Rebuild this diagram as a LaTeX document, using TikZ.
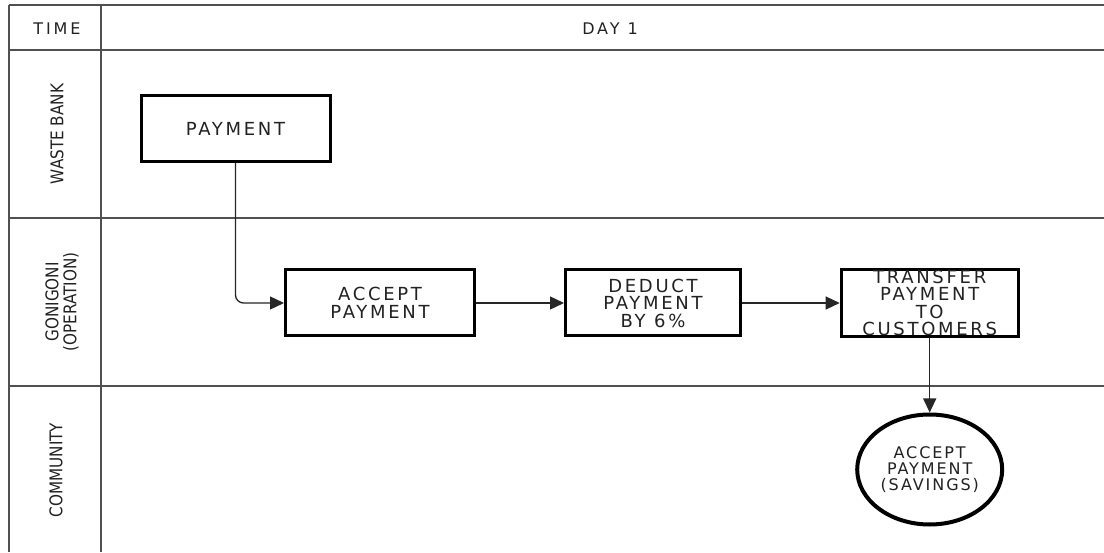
\documentclass[tikz,border=0pt]{standalone}
\usepackage{fontspec}
\setmainfont{DejaVu Sans}
\newfontfamily\boxfont[LetterSpace=15]{DejaVu Sans}
\newfontfamily\roundfont[LetterSpace=12]{DejaVu Sans}
\newfontfamily\headfont[LetterSpace=18]{DejaVu Sans}
\newfontfamily\lanefont[FakeStretch=0.87]{DejaVu Sans}
\usetikzlibrary{arrows.meta,shapes.geometric}
\definecolor{gridline}{HTML}{505050}
\definecolor{ink}{HTML}{222222}

\begin{document}
\begin{tikzpicture}[x=1pt,y=-1pt,
  gridrule/.style={draw=gridline, line width=1.6pt},
  headlabel/.style={font=\headfont\fontsize{16}{18}\selectfont, text=ink},
  lanelabel/.style={rotate=90, align=center, font=\lanefont\fontsize{17.5}{18}\selectfont, text=ink},
  stepbox/.style={draw, line width=3pt, minimum height=66pt, align=center, inner sep=0pt,
    text=ink, font=\boxfont\fontsize{18}{17.5}\selectfont},
  endstate/.style={draw, ellipse, line width=4pt, minimum width=145pt, minimum height=110pt,
    align=center, inner sep=0pt, text=ink, font=\roundfont\fontsize{16}{16}\selectfont},
  flow/.style={draw=black!85, line width=1.3pt, -{Triangle[length=14pt,width=13pt]}}
]
\useasboundingbox (0,0) rectangle (1104,553);
\fill[white] (0,0) rectangle (1104,553);

% swimlane grid
\draw[gridrule] (9,5) -- (1104,5);
\draw[gridrule] (9,50) -- (1104,50);
\draw[gridrule] (9,218) -- (1104,218);
\draw[gridrule] (9,386) -- (1104,386);
\draw[gridrule] (9,5) -- (9,552);
\draw[gridrule] (101,5) -- (101,552);

% header row
\node[headlabel] (time) at (57,29) {TIME};
\node[headlabel] (day) at (610,29) {DAY 1};

% lane titles
\node[lanelabel] (lwaste) at (57,134) {WASTE BANK};
\node[lanelabel] (lgoni) at (62,302) {GONIGONI\\(OPERATION)};
\node[lanelabel] (lcomm) at (56,470) {COMMUNITY};

% process steps
\node[stepbox, minimum width=189pt] (pay) at (235.5,128.5) {PAYMENT};
\node[stepbox, minimum width=189pt] (acc) at (380,303) {ACCEPT\\PAYMENT};
\node[stepbox, minimum width=175pt] (ded) at (653,303) {DEDUCT\\PAYMENT\\BY 6\%};
\node[stepbox, minimum width=177pt] (trans) at (929.7,303) {TRANSFER\\PAYMENT\\TO\\CUSTOMERS};
\node[endstate] (save) at (929.7,469.5) {ACCEPT\\PAYMENT\\(SAVINGS)};

% connectors
\draw[flow, rounded corners=8pt] (pay.south) |- (acc.west);
\draw[flow] (acc.east) -- (ded.west);
\draw[flow] (ded.east) -- (trans.west);
\draw[flow] (trans.south) -- (save.north);
\end{tikzpicture}
\end{document}
